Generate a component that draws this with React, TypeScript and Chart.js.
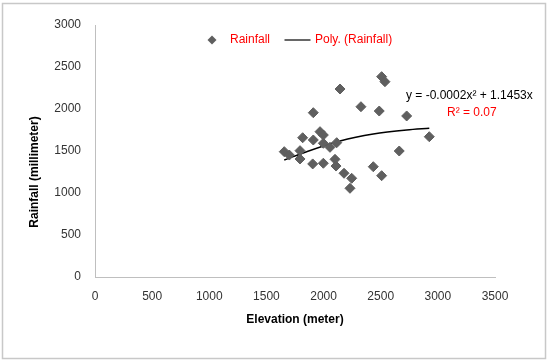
import React, { useEffect, useRef } from "react";
import { Chart, registerables } from "chart.js";

Chart.register(...registerables);

const elevation = [1656, 1700, 1794, 1794, 1817, 1910, 1910, 1905, 1969, 1998, 1998, 1998, 2056, 2115, 2100, 2109, 2144, 2179, 2246, 2231, 2327, 2435, 2508, 2487, 2508, 2537, 2662, 2727, 2925];
const rainfall = [1492, 1452, 1504, 1405, 1658, 1956, 1631, 1346, 1730, 1690, 1592, 1354, 1544, 1599, 1401, 1321, 2238, 1235, 1175, 1056, 2027, 1313, 1206, 1976, 2385, 2325, 1500, 1917, 1670];

const trendElevation = [1656, 1852, 2144, 2435, 2727, 2925];
const trendRainfall = [1393, 1492, 1619, 1702, 1750, 1770];

const xTicks = [0, 500, 1000, 1500, 2000, 2500, 3000, 3500];
const yTicks = [0, 500, 1000, 1500, 2000, 2500, 3000];

const FONT = "'Liberation Sans', Arial, sans-serif";
const TICK_COLOR = "#333333";
const MARKER = "#5f5f5f";

const decorPlugin = {
  id: "decor",
  beforeDraw(chart: any) {
    const ctx = chart.ctx;
    ctx.save();
    ctx.fillStyle = "#ffffff";
    ctx.fillRect(0, 0, chart.width, chart.height);
    ctx.strokeStyle = "#c8c8c8";
    ctx.lineWidth = 1.5;
    ctx.strokeRect(2.5, 3.5, 543, 355);
    ctx.restore();
  },
  afterDraw(chart: any) {
    const ctx = chart.ctx;
    ctx.save();
    // legend
    const ly = 40;
    ctx.fillStyle = MARKER;
    ctx.beginPath();
    ctx.moveTo(212, ly - 4.5);
    ctx.lineTo(216.5, ly);
    ctx.lineTo(212, ly + 4.5);
    ctx.lineTo(207.5, ly);
    ctx.closePath();
    ctx.fill();
    ctx.font = `12px ${FONT}`;
    ctx.textBaseline = "middle";
    ctx.textAlign = "left";
    ctx.fillStyle = "#ff0000";
    ctx.fillText("Rainfall", 230, ly);
    ctx.strokeStyle = "#000000";
    ctx.lineWidth = 1.2;
    ctx.beginPath();
    ctx.moveTo(284.5, ly);
    ctx.lineTo(310.5, ly);
    ctx.stroke();
    ctx.fillText("Poly. (Rainfall)", 315, ly);
    // equation
    ctx.fillStyle = "#000000";
    ctx.fillText("y = -0.0002x\u00B2 + 1.1453x", 406, 96);
    ctx.fillStyle = "#ff0000";
    ctx.fillText("R\u00B2 = 0.07", 447, 113);
    // y title
    ctx.translate(35, 172);
    ctx.rotate(-Math.PI / 2);
    ctx.textAlign = "center";
    ctx.fillStyle = "#000000";
    ctx.font = `bold 12px ${FONT}`;
    ctx.fillText("Rainfall (millimeter)", 0, 0);
    ctx.restore();
  },
};

export default function App() {
  const ref = useRef<HTMLCanvasElement | null>(null);
  useEffect(() => {
    document.body.style.margin = "0";
    if (!ref.current) return;
    const chart = new Chart(ref.current, {
      type: "scatter",
      data: {
        datasets: [
          {
            label: "Rainfall",
            data: elevation.map((x, i) => ({ x, y: rainfall[i] })),
            pointStyle: "rectRot",
            pointRadius: 5,
            backgroundColor: MARKER,
            borderColor: MARKER,
            borderWidth: 1,
          },
          {
            label: "Poly. (Rainfall)",
            type: "line",
            data: trendElevation.map((x, i) => ({ x, y: trendRainfall[i] })),
            borderColor: "#000000",
            borderWidth: 1.5,
            pointRadius: 0,
            cubicInterpolationMode: "monotone",
            fill: false,
          } as any,
        ],
      },
      options: {
        responsive: false,
        animation: false,
        layout: { padding: { left: 0, right: 55, top: 25, bottom: 0 } },
        plugins: {
          legend: { display: false },
          tooltip: { enabled: false },
        },
        scales: {
          x: {
            type: "linear",
            min: xTicks[0],
            max: xTicks[xTicks.length - 1],
            afterBuildTicks: (s: any) => {
              s.ticks = xTicks.map((v) => ({ value: v }));
            },
            afterFit: (s: any) => {
              s.height = 86;
            },
            grid: { display: false, drawTicks: false },
            border: { display: true, color: "#bfbfbf", width: 1 },
            ticks: {
              color: TICK_COLOR,
              font: { family: FONT, size: 12 },
              padding: 12,
              maxRotation: 0,
              callback: (v: any) => String(v),
            },
            title: {
              display: true,
              text: "Elevation (meter)",
              color: "#000000",
              font: { family: FONT, size: 12, weight: "bold" },
              padding: { top: 0, bottom: 36 },
            },
          },
          y: {
            type: "linear",
            min: yTicks[0],
            max: yTicks[yTicks.length - 1],
            afterBuildTicks: (s: any) => {
              s.ticks = yTicks.map((v) => ({ value: v }));
            },
            afterFit: (s: any) => {
              s.width = 95;
            },
            grid: { display: false, drawTicks: false },
            border: { display: true, color: "#bfbfbf", width: 1 },
            ticks: {
              color: TICK_COLOR,
              font: { family: FONT, size: 12 },
              padding: 14,
              callback: (v: any) => String(v),
            },
          },
        },
      },
      plugins: [decorPlugin],
    });
    return () => chart.destroy();
  }, []);
  return <canvas ref={ref} width={550} height={363} style={{ display: "block" }} />;
}
